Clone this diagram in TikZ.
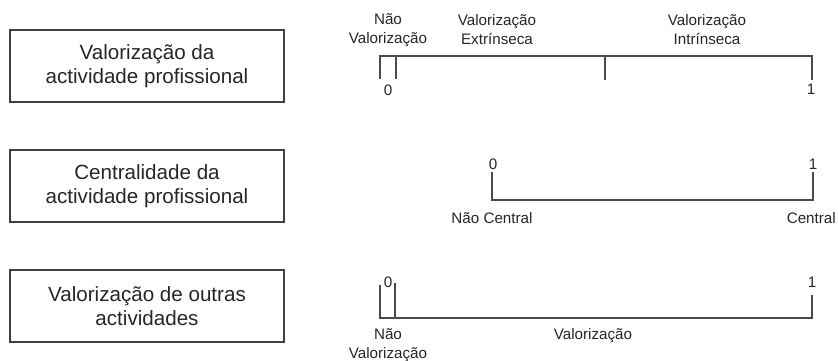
\documentclass[tikz,border=0pt]{standalone}
\usepackage{fontspec}
\setmainfont{Liberation Sans}
\begin{document}
\begin{tikzpicture}[x=1pt,y=-1pt,
  box/.style={draw=black!75, line width=1.3pt, minimum width=274pt, minimum height=72pt, inner sep=0pt, align=center, font=\fontsize{20.6}{24}\selectfont, text=black!85},
  lbl/.style={inner sep=0pt, align=center, font=\fontsize{15.2}{19}\selectfont, text=black!85},
  scale line/.style={draw=black!70, line width=1.2pt}]
\useasboundingbox (0,0) rectangle (838,361);
% boxes
\node[box] (b1) at (147,66) {Valorização da\\actividade profissional};
\node[box] (b2) at (147,186) {Centralidade da\\actividade profissional};
\node[box] (b3) at (147,306) {Valorização de outras\\actividades};
% scale 1
\coordinate (a0) at (380,56);
\coordinate (a0b) at (380,79);
\coordinate (a1) at (396,56);
\coordinate (a1b) at (396,79);
\coordinate (am) at (605,56);
\coordinate (amb) at (605,80);
\coordinate (ae) at (812,56);
\coordinate (aeb) at (812,80);
\draw[scale line] (a0b) -- (a0) -- (ae) -- (aeb);
\draw[scale line] (a1) -- (a1b);
\draw[scale line] (am) -- (amb);
\node[lbl] (a0lab) at (388,90) {0};
\node[lbl] (aelab) at (811,89) {1};
\node[lbl] (anv) at (388,30) {Não\\Valorização};
\node[lbl] (aext) at (497,30) {Valorização\\Extrínseca};
\node[lbl] (aint) at (707,30) {Valorização\\Intrínseca};
% scale 2
\coordinate (c0) at (492,172);
\coordinate (c0b) at (492,200);
\coordinate (ce) at (813,172);
\coordinate (ceb) at (813,200);
\draw[scale line] (c0) -- (c0b) -- (ceb) -- (ce);
\node[lbl] (c0lab) at (493,164) {0};
\node[lbl] (celab) at (813,164) {1};
\node[lbl] (cnc) at (492,218) {Não Central};
\node[lbl, anchor=east] (cc) at (836,218) {Central};
% scale 3
\coordinate (d0) at (380,285);
\coordinate (d0b) at (380,318);
\coordinate (d1) at (395,283);
\coordinate (d1b) at (395,318);
\coordinate (de) at (812,295);
\coordinate (deb) at (812,318);
\draw[scale line] (d0) -- (d0b) -- (deb) -- (de);
\draw[scale line] (d1) -- (d1b);
\node[lbl] (d0lab) at (388,282) {0};
\node[lbl] (delab) at (812,282) {1};
\node[lbl] (dnv) at (388,345) {Não\\Valorização};
\node[lbl] (dval) at (593,336) {Valorização};
\end{tikzpicture}
\end{document}
